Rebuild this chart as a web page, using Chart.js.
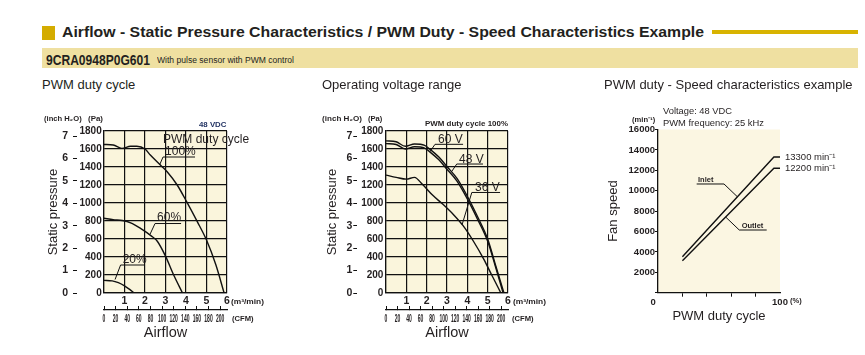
<!DOCTYPE html>
<html><head><meta charset="utf-8">
<script src="https://cdn.jsdelivr.net/npm/chart.js@4.4.1/dist/chart.umd.min.js"></script>
<style>
body{margin:0;width:865px;height:355px;position:relative;overflow:hidden;background:#fff;font-family:"Liberation Sans",Arial,sans-serif;color:#231f20}
.t{position:absolute;white-space:nowrap;line-height:1;transform-origin:0 50%}
.b{font-weight:bold}
canvas{position:absolute}
</style></head><body>
<div style="position:absolute;left:42px;top:26px;width:13px;height:14px;background:#d4ac00"></div>
<div style="position:absolute;left:712px;top:30px;width:146px;height:4px;background:#d8b300"></div>
<div style="position:absolute;left:42px;top:48px;width:816px;height:20px;background:#efe0a1"></div>

<canvas id="c1" width="300" height="255" style="left:0;top:95px;width:300px;height:255px"></canvas>
<canvas id="c2" width="300" height="255" style="left:282px;top:95px;width:300px;height:255px"></canvas>
<canvas id="c3" width="285" height="255" style="left:580px;top:95px;width:285px;height:255px"></canvas>

<div class="t b" style="left:62px;top:25.2px;font-size:14.5px" data-w="642">Airflow - Static Pressure Characteristics / PWM Duty - Speed Characteristics Example</div>
<div class="t b" style="left:46px;top:53.1px;font-size:14px" data-w="104">9CRA0948P0G601</div>
<div class="t" style="left:157px;top:56.3px;font-size:8.5px" data-w="137">With pulse sensor with PWM control</div>

<div class="t" style="left:41.7px;top:78.1px;font-size:13px" data-w="93.3">PWM duty cycle</div>
<div class="t" style="left:322px;top:78.1px;font-size:13px">Operating voltage range</div>
<div class="t" style="left:604px;top:78.1px;font-size:13px">PWM duty - Speed characteristics example</div>

<div class="t b" style="left:44px;top:115.3px;font-size:7.5px" data-w="37.7">(inch H₂O)</div>
<div class="t b" style="left:88.3px;top:115.3px;font-size:7.5px" data-w="15">(Pa)</div>
<div class="t b" style="left:321.7px;top:115.3px;font-size:7.5px" data-w="40">(inch H₂O)</div>
<div class="t b" style="left:368.3px;top:115.3px;font-size:7.5px" data-w="14.4">(Pa)</div>
<div class="t b" style="left:199.3px;top:120.8px;font-size:7.5px;color:#1c2d5e" data-w="27.4">48 VDC</div>
<div class="t b" style="left:425.3px;top:119.6px;font-size:7.5px" data-w="83">PWM duty cycle 100%</div>

<div class="t b" style="left:230.5px;top:297.6px;font-size:7px" data-w="33">(m³/min)</div>
<div class="t b" style="left:512.7px;top:297.6px;font-size:7px" data-w="33">(m³/min)</div>
<div class="t b" style="left:231.7px;top:315px;font-size:7px" data-w="21.6">(CFM)</div>
<div class="t b" style="left:511.7px;top:315px;font-size:7px" data-w="21.6">(CFM)</div>

<div class="t b" style="left:631.7px;top:115.5px;font-size:7px" data-w="23.3">(min⁻¹)</div>
<div class="t" style="left:662.7px;top:106.3px;font-size:9.5px" data-w="69">Voltage: 48 VDC</div>
<div class="t" style="left:662.7px;top:118.1px;font-size:9.5px" data-w="101">PWM frequency: 25 kHz</div>
<div class="t b" style="left:790px;top:297px;font-size:7px" data-w="11.7">(%)</div>

<script>
// ---------- data ----------
const PA_PER_INCH = 249.089;
const M3MIN_TO_CFM = 35.3147;

const flowTicks  = [0, 1, 2, 3, 4, 5, 6];
const cfmTicks   = [0, 20, 40, 60, 80, 100, 120, 140, 160, 180, 200];
const paTicks    = [0, 200, 400, 600, 800, 1000, 1200, 1400, 1600, 1800];
const inchTicks  = [0, 1, 2, 3, 4, 5, 6, 7];
const dutyTicks  = [0, 20, 40, 60, 80, 100];
const speedTicks = [0, 2000, 4000, 6000, 8000, 10000, 12000, 14000, 16000];

// Panel 1: PWM duty cycle (48 VDC)  airflow m3/min , static pressure Pa
const duty100Flow = [0, 0.45, 0.87, 1.3, 1.6, 2.0, 2.26, 2.75, 3.08, 3.57, 4.03, 4.55, 5.0, 5.46, 5.86];
const duty100Pa   = [1650, 1645, 1607, 1630, 1630, 1600, 1533, 1422, 1348, 1200, 1015, 793, 589, 311, 0];
const duty60Flow  = [0, 0.45, 0.9, 1.3, 1.8, 2.3, 2.6, 3.0, 3.4, 3.83];
const duty60Pa    = [830, 815, 805, 780, 715, 635, 575, 410, 200, 0];
const duty20Flow  = [0, 0.4, 0.7, 1.0, 1.25, 1.47];
const duty20Pa    = [140, 135, 115, 80, 40, 0];

// Panel 2: operating voltage range (PWM 100%)
const v60Flow = [0, 0.5, 0.95, 1.4, 1.9, 2.2, 2.6, 3.0, 3.5, 4.0, 4.5, 5.0, 5.4, 5.8];
const v60Pa   = [1690, 1680, 1630, 1655, 1640, 1590, 1510, 1405, 1270, 1075, 850, 600, 300, 0];
const v48Flow = [0, 0.5, 0.95, 1.4, 1.9, 2.2, 2.6, 3.0, 3.5, 4.0, 4.5, 5.0, 5.4, 5.76];
const v48Pa   = [1660, 1650, 1600, 1625, 1610, 1560, 1480, 1375, 1240, 1045, 820, 575, 280, 0];
const v36Flow = [0, 0.5, 1.0, 1.4, 1.8, 2.3, 2.8, 3.3, 3.8, 4.3, 4.8, 5.2, 5.65];
const v36Pa   = [1310, 1285, 1265, 1285, 1205, 1085, 985, 875, 745, 575, 380, 200, 0];

// Panel 3: PWM duty (%) vs fan speed (min-1)
const inletDuty  = [20, 95, 100];
const inletSpeed = [3530, 13300, 13300];
const outletDuty  = [20, 95, 100];
const outletSpeed = [3140, 12200, 12200];

// ---------- helpers ----------
const FAM = '"Liberation Sans", Arial, sans-serif';
Chart.defaults.font.family = FAM;
Chart.defaults.color = '#231f20';
const INK = '#111';
const pts = (xs, ys) => xs.map((x, i) => ({x, y: ys[i]}));
const setTicks = arr => s => { s.ticks = arr.map(v => ({value: v})); };
const curve = (xs, ys) => ({data: pts(xs, ys), xAxisID: 'x', yAxisID: 'y', borderColor: INK, borderWidth: 1.4,
  pointRadius: 0, fill: false, cubicInterpolationMode: 'monotone'});

// annotations (data coordinates of each chart's x / y scales)
const notes = {
  c1: {bg: '#faf5dc',
    texts: [
      {at: [2.88, 1706], text: 'PWM duty cycle', font: '12px ' + FAM},
      {at: [2.98, 1567], text: '100%', font: '12px ' + FAM},
      {at: [2.59, 833], text: '60%', font: '12px ' + FAM},
      {at: [0.91, 367], text: '20%', font: '12px ' + FAM}],
    lines: [
      [[4.44, 1511], [2.88, 1511], [2.71, 1422]],
      [[3.76, 772], [2.49, 772], [2.24, 650]],
      [[2.0, 311], [0.81, 311], [0.54, 150]]],
    squeeze: {id: 'cfm', font: 'bold 10px ' + FAM, sx: 0.5, dy: 9}},
  c2: {bg: '#faf5dc',
    texts: [
      {at: [2.56, 1700], text: '60 V', font: '12px ' + FAM},
      {at: [3.59, 1483], text: '48 V', font: '12px ' + FAM},
      {at: [4.38, 1167], text: '36 V', font: '12px ' + FAM}],
    lines: [
      [[3.79, 1652], [2.41, 1652], [2.16, 1570]],
      [[4.77, 1433], [3.48, 1433], [3.23, 1350]],
      [[5.61, 1117], [4.22, 1117], [3.74, 757]]],
    squeeze: {id: 'cfm', font: 'bold 10px ' + FAM, sx: 0.5, dy: 9}},
  c3: {bg: '#fbf6e2',
    texts: [
      {at: [32.8, 11049], text: 'Inlet', font: 'bold 7.5px ' + FAM},
      {at: [68.6, 6588], text: 'Outlet', font: 'bold 7.5px ' + FAM},
      {at: [104.1, 13300], text: '13300 min⁻¹', font: '9.5px ' + FAM},
      {at: [104.1, 12200], text: '12200 min⁻¹', font: '9.5px ' + FAM}],
    lines: [
      [[31.7, 10657], [54.1, 10657], [65, 9412]],
      [[89.1, 6147], [66.6, 6147], [55.7, 7392]]]}
};

const notesPlugin = {
  id: 'notes',
  beforeDraw(chart) {
    const n = notes[chart.canvas.id], a = chart.chartArea, ctx = chart.ctx;
    ctx.save(); ctx.fillStyle = n.bg; ctx.fillRect(a.left, a.top, a.right - a.left, a.bottom - a.top); ctx.restore();
  },
  afterDatasetsDraw(chart) {
    const n = notes[chart.canvas.id], ctx = chart.ctx, xs = chart.scales.x, ys = chart.scales.y;
    const P = p => [xs.getPixelForValue(p[0]), ys.getPixelForValue(p[1])];
    ctx.save();
    ctx.strokeStyle = INK; ctx.fillStyle = '#231f20'; ctx.lineWidth = 1;
    n.lines.forEach(l => { ctx.beginPath(); l.forEach((p, i) => { const [x, y] = P(p); i ? ctx.lineTo(x, y) : ctx.moveTo(x, y); }); ctx.stroke(); });
    n.texts.forEach(t => { ctx.font = t.font; ctx.textAlign = 'left'; ctx.textBaseline = 'middle'; const [x, y] = P(t.at); ctx.fillText(t.text, x, y); });
    if (n.squeeze) {
      const q = n.squeeze, s = chart.scales[q.id];
      ctx.font = q.font; ctx.textAlign = 'center'; ctx.textBaseline = 'middle';
      s.ticks.forEach(tk => { ctx.save(); ctx.translate(s.getPixelForValue(tk.value), s.top + q.dy); ctx.scale(q.sx, 1); ctx.fillText(String(tk.value), 0, 0); ctx.restore(); });
    }
    ctx.restore();
  }
};

const common = {responsive: false, animation: false, devicePixelRatio: 1, events: [],
  plugins: {legend: {display: false}, tooltip: {enabled: false}}};

function pressureChart(id, datasets, L) {
  return new Chart(document.getElementById(id), {
    type: 'line', data: {datasets}, plugins: [notesPlugin],
    options: Object.assign({}, common, {
      layout: {padding: {left: L.padLeft, right: L.padRight, top: 36, bottom: 0}},
      scales: {
        x: {type: 'linear', position: 'bottom', weight: 0, min: 0, max: 6,
          afterBuildTicks: setTicks(flowTicks), afterFit: s => { s.height = 17; },
          grid: {color: INK, lineWidth: 1.2, drawTicks: false}, border: {color: INK, width: 1.2},
          ticks: {font: {size: 10.5, weight: 'bold'}, padding: 2, maxRotation: 0, autoSkip: false,
            callback: v => v === 0 ? '' : String(v)}},
        cfm: {type: 'linear', position: 'bottom', weight: 1, min: 0, max: 6 * M3MIN_TO_CFM,
          afterBuildTicks: setTicks(cfmTicks), afterFit: s => { s.height = 40; },
          grid: {drawOnChartArea: false, tickLength: -4, color: INK, lineWidth: 1},
          border: {color: INK, width: 1.2}, ticks: {display: false},
          title: {display: true, text: 'Airflow', font: {size: 14.5}, padding: {top: 0, bottom: 8.3}}},
        y: {type: 'linear', position: 'left', weight: 0, min: 0, max: 1800,
          afterBuildTicks: setTicks(paTicks), afterFit: s => { s.width = L.paW; },
          grid: {color: INK, lineWidth: 1.2, drawTicks: false}, border: {color: INK, width: 1.2},
          ticks: {font: {size: 10, weight: 'bold'}, padding: L.paPad, callback: v => String(v)}},
        inch: {type: 'linear', position: 'left', weight: 1, min: 0, max: 1800 / PA_PER_INCH,
          afterBuildTicks: setTicks(inchTicks), afterFit: s => { s.width = L.inW; },
          grid: {drawOnChartArea: false, tickLength: 4, color: INK, lineWidth: 1}, border: {display: false},
          ticks: {font: {size: 10.5, weight: 'bold'}, padding: L.inPad, callback: v => String(v)},
          title: {display: true, text: 'Static pressure', font: {size: 13}, padding: {top: 0, bottom: 0}}}
      }
    })
  });
}

pressureChart('c1', [curve(duty100Flow, duty100Pa), curve(duty60Flow, duty60Pa), curve(duty20Flow, duty20Pa)],
  {padLeft: 45.2, inW: 31.8, inPad: 5, paW: 27, paPad: 2.3, padRight: 73});
pressureChart('c2', [curve(v60Flow, v60Pa), curve(v48Flow, v48Pa), curve(v36Flow, v36Pa)],
  {padLeft: 42.2, inW: 33.1, inPad: 1, paW: 28.7, paPad: 2.6, padRight: 74});

new Chart(document.getElementById('c3'), {
  type: 'line', plugins: [notesPlugin],
  data: {datasets: [
    {data: pts(inletDuty, inletSpeed), xAxisID: 'x', yAxisID: 'y', borderColor: INK, borderWidth: 1.4, pointRadius: 0, fill: false, tension: 0},
    {data: pts(outletDuty, outletSpeed), xAxisID: 'x', yAxisID: 'y', borderColor: INK, borderWidth: 1.4, pointRadius: 0, fill: false, tension: 0}]},
  options: Object.assign({}, common, {
    layout: {padding: {left: 25.2, right: 85, top: 34.5, bottom: 0}},
    scales: {
      x: {type: 'linear', position: 'bottom', min: 0, max: 100,
        afterBuildTicks: setTicks(dutyTicks), afterFit: s => { s.height = 57.3; },
        grid: {drawOnChartArea: false, tickLength: 4, lineWidth: 1,
          color: c => (c.tick && (c.tick.value === 0 || c.tick.value === 100)) ? 'rgba(0,0,0,0)' : INK},
        border: {color: INK, width: 1.3},
        ticks: {font: {size: 9.5, weight: 'bold'}, padding: 0, maxRotation: 0, autoSkip: false,
          callback: v => v === 0 ? '0\u2003' : (v === 100 ? '100' : '')},
        title: {display: true, text: 'PWM duty cycle', font: {size: 13}, padding: {top: 0, bottom: 26.2}}},
      y: {type: 'linear', position: 'left', min: 0, max: 16000,
        afterBuildTicks: setTicks(speedTicks), afterFit: s => { s.width = 52.8; },
        grid: {drawOnChartArea: false, tickLength: 3, color: INK, lineWidth: 1},
        border: {color: INK, width: 1.3},
        ticks: {font: {size: 9.5, weight: 'bold'}, padding: 0, callback: v => v === 0 ? '' : String(v)},
        title: {display: true, text: 'Fan speed', font: {size: 13}, padding: {top: 0, bottom: 0}}}
    }
  })
});

// fit header/label texts to measured widths
document.querySelectorAll('[data-w]').forEach(el => {
  const w = el.getBoundingClientRect().width;
  if (w > 0) el.style.transform = 'scaleX(' + (parseFloat(el.dataset.w) / w) + ')';
});
</script>
</body></html>
